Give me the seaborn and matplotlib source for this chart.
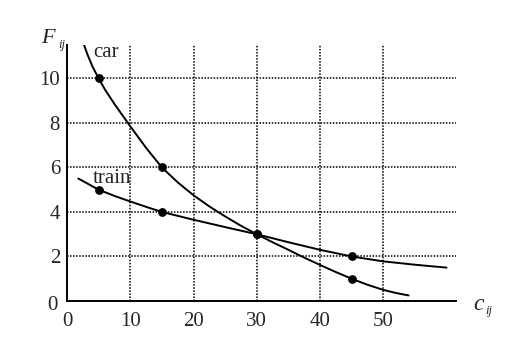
import matplotlib
matplotlib.use("Agg")
import matplotlib.pyplot as plt
from matplotlib.transforms import offset_copy
import seaborn as sns
import pandas as pd

# ---- data ----
car_curve_x = [2.7, 3.2, 4, 5, 6, 7.5, 10, 12.5, 15, 17.5, 20, 22.5, 25, 27.5,
               30, 32.5, 35, 37.5, 40, 42.5, 45, 47.5, 50, 52, 54]
car_curve_y = [11.5, 11.1, 10.55, 10.0, 9.5, 8.85, 7.85, 6.88, 6.0, 5.33, 4.75,
               4.25, 3.8, 3.38, 3.0, 2.64, 2.3, 1.95, 1.62, 1.3, 1.0, 0.73,
               0.5, 0.36, 0.25]
train_curve_x = [1.8, 5, 7.5, 10, 12.5, 15, 20, 25, 30, 35, 40, 45, 50, 55, 60]
train_curve_y = [5.5, 5.0, 4.72, 4.47, 4.23, 4.0, 3.65, 3.32, 3.0, 2.64, 2.3,
                 2.0, 1.78, 1.63, 1.5]
point_x = [5, 15, 30, 45]
car_points = [10, 6, 3, 1]
train_points = [5, 4, 3, 2]
x_ticks = [0, 10, 20, 30, 40, 50]
y_ticks = [2, 4, 6, 8, 10]

curves = pd.concat([
    pd.DataFrame({"c": car_curve_x, "F": car_curve_y, "mode": "car"}),
    pd.DataFrame({"c": train_curve_x, "F": train_curve_y, "mode": "train"}),
])
points = pd.concat([
    pd.DataFrame({"c": point_x, "F": car_points, "mode": "car"}),
    pd.DataFrame({"c": point_x, "F": train_points, "mode": "train"}),
])

sns.set_style("white")
plt.rcParams['font.family'] = ['Liberation Serif', 'DejaVu Serif']

W, H = 532, 358
fig = plt.figure(figsize=(W / 100, H / 100), dpi=100)
ax = fig.add_axes([67 / W, (H - 301) / H, (456 - 67) / W, (301 - 45) / H])

ax.grid(True, color="black", linestyle=(0, (1, 1)), linewidth=1.1)
ax.set_axisbelow(True)

sns.lineplot(data=curves, x="c", y="F", units="mode", estimator=None,
             color="black", linewidth=1.4, ax=ax, sort=True, legend=False)
sns.scatterplot(data=points, x="c", y="F", color="black", s=40,
                edgecolor="black", linewidth=0, ax=ax, legend=False, zorder=5)

ax.set_xlim(0, 61.5)
ax.set_ylim(0, 11.5)
ax.set_xticks(x_ticks)
ax.set_yticks(y_ticks)
ax.set_xticklabels([str(t) for t in x_ticks], fontsize=15)
ax.set_yticklabels([str(t) for t in y_ticks], fontsize=15)
ax.tick_params(axis="x", length=0, pad=8)
ax.tick_params(axis="y", length=0, pad=5)
ax.set_xlabel("")
ax.set_ylabel("")

for side in ["top", "right"]:
    ax.spines[side].set_visible(False)
for side in ["left", "bottom"]:
    ax.spines[side].set_color("black")
    ax.spines[side].set_linewidth(1.4)

# y "0" label sits slightly lower than the axis
ax.text(0, 0, "0", fontsize=15, ha="right", va="center",
        transform=offset_copy(ax.transData, fig, x=-9, y=-5, units="dots"))

# curve labels
ax.text(4.1, 10.94, "car", fontsize=15, ha="left", va="baseline")
ax.text(4.1, 5.3, "train", fontsize=15, ha="left", va="baseline")

# axis labels
fig.text(41 / W, (H - 43) / H, "F", fontsize=16, style="italic", va="baseline")
fig.text(58 / W, (H - 48) / H, "ij", fontsize=9, style="italic", va="baseline")
fig.text(473 / W, (H - 310) / H, "c", fontsize=17, style="italic", va="baseline")
fig.text(485 / W, (H - 314) / H, "ij", fontsize=9, style="italic", va="baseline")

fig.savefig("out.png", dpi=100)
